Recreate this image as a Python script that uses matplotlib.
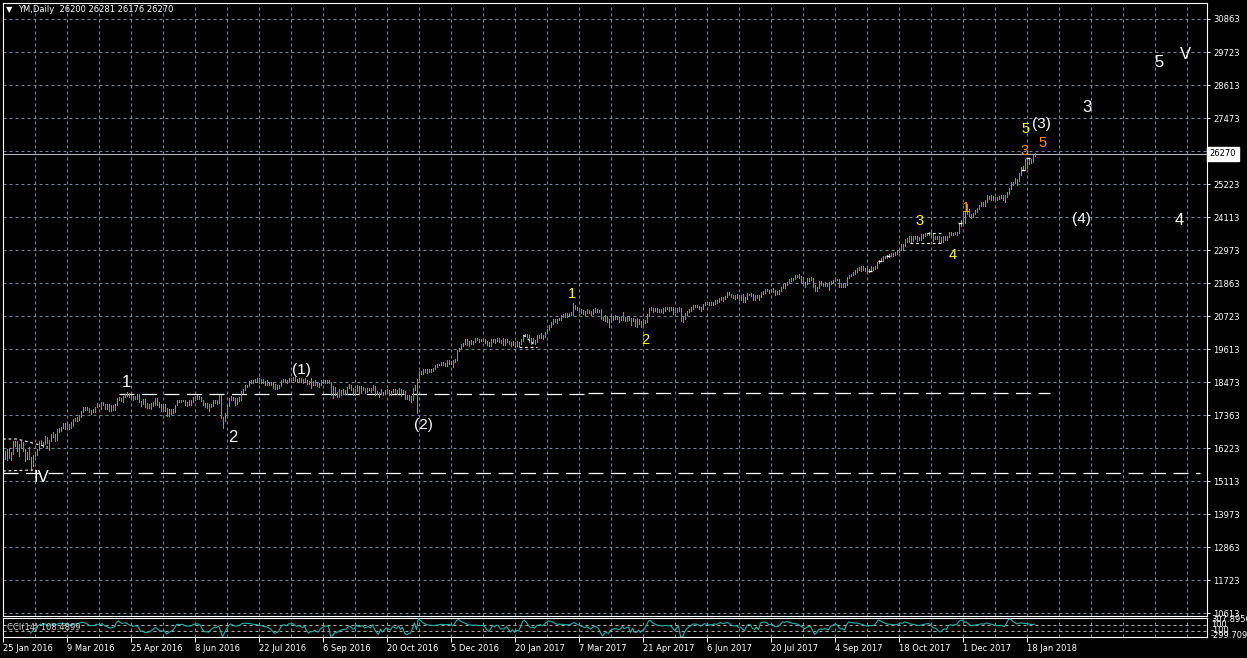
import matplotlib
matplotlib.use("Agg")
import matplotlib.pyplot as plt
import numpy as np

# YM daily bars, 25 Jan 2016 .. 23 Jan 2018 (one bar per trading day)
highs_2016 = [
    16130, 16190, 16240, 16110, 16490, 16480, 16460, 16360, 16480, 16440, 16220, 16110, 16260, 15930, 15990, 16090,
    16220, 16480, 16510, 16430, 16650, 16630, 16500, 16720, 16800, 16700, 16880, 16920, 16960, 17080, 17100, 17080,
    17040, 17130, 17230, 17260, 17280, 17370, 17510, 17620, 17650, 17640, 17610, 17530, 17560, 17650, 17760, 17740,
    17810, 17810, 17740, 17730, 17730, 17700, 17720, 17740, 17930, 17960, 17940, 18020, 18080, 18160, 18110, 18030,
    18010, 18020, 18080, 18070, 17850, 17910, 17900, 17770, 17730, 17760, 17790, 17950, 17940, 17790, 17740, 17740,
    17730, 17600, 17560, 17560, 17560, 17720, 17880, 17870, 17890, 17890, 17880, 17820, 17860, 17860, 17960, 18000,
    18030, 18020, 17990, 17880, 17780, 17760, 17750, 17750, 17880, 17880, 17880, 18030, 18050, 17310, 17440, 17720,
    17950, 18000, 17960, 17930, 17940, 17970, 18170, 18260, 18370, 18400, 18530, 18540, 18560, 18580, 18620, 18620,
    18600, 18590, 18520, 18540, 18500, 18490, 18480, 18420, 18380, 18390, 18570, 18580, 18580, 18570, 18640, 18620,
    18670, 18650, 18590, 18620, 18610, 18580, 18620, 18570, 18510, 18630, 18530, 18540, 18480, 18460, 18540, 18520,
    18560, 18560, 18550, 18490, 18350, 18330, 18150, 18240, 18220, 18250, 18200, 18320, 18430, 18400, 18270, 18250,
    18370, 18350, 18340, 18320, 18300, 18300, 18300, 18300, 18390, 18350, 18190, 18160, 18260, 18160, 18210, 18250,
    18230, 18190, 18260, 18240, 18220, 18280, 18240, 18210, 18190, 18060, 18040, 18010, 18280, 18370, 18600, 18880,
    18880, 18930, 18940, 18930, 18930, 18940, 18970, 19060, 19100, 19110, 19170, 19170, 19150, 19230, 19230, 19210,
    19250, 19270, 19570, 19640, 19780, 19830, 19940, 19960, 19880, 19920, 19900, 19990, 19990, 19960, 19950, 19980,
    19960, 19870, 19850,
]
lows_2016 = [
    15850, 15840, 15910, 15820, 16040, 16320, 16120, 15960, 16240, 16120, 15800, 15880, 15880, 15480, 15640, 15950,
    16000, 16170, 16380, 16260, 16370, 16400, 16170, 16460, 16610, 16490, 16500, 16790, 16820, 16920, 16900, 16930,
    16900, 16920, 16980, 17160, 17160, 17200, 17290, 17450, 17550, 17540, 17480, 17400, 17470, 17460, 17620, 17660,
    17580, 17710, 17580, 17560, 17510, 17500, 17530, 17540, 17700, 17870, 17850, 17820, 17970, 18000, 17960, 17940,
    17890, 17920, 17920, 17790, 17680, 17740, 17640, 17610, 17600, 17570, 17660, 17690, 17690, 17640, 17510, 17500,
    17500, 17330, 17330, 17410, 17440, 17470, 17690, 17790, 17790, 17830, 17710, 17660, 17700, 17700, 17790, 17890,
    17910, 17900, 17830, 17700, 17630, 17600, 17490, 17620, 17660, 17770, 17740, 17760, 17250, 16920, 17150, 17400,
    17680, 17880, 17880, 17710, 17730, 17830, 17880, 18120, 18200, 18310, 18350, 18440, 18460, 18480, 18530, 18450,
    18470, 18440, 18400, 18390, 18390, 18370, 18300, 18260, 18260, 18290, 18340, 18490, 18490, 18440, 18480, 18530,
    18560, 18520, 18480, 18530, 18490, 18440, 18500, 18430, 18410, 18300, 18370, 18400, 18360, 18320, 18400, 18460,
    18470, 18460, 18440, 18060, 17950, 18040, 17990, 17990, 18040, 18090, 18070, 18080, 18280, 18230, 18060, 18060,
    18180, 18080, 18120, 18210, 18110, 18160, 18200, 18150, 18220, 18060, 18080, 17960, 18080, 18040, 18070, 18130,
    18060, 18050, 18140, 18120, 18080, 18130, 18000, 18100, 17900, 17910, 17860, 17800, 17880, 18230, 17430, 18560,
    18750, 18770, 18820, 18790, 18820, 18840, 18850, 18940, 18990, 19060, 19070, 19060, 19050, 19040, 19100, 19100,
    19000, 19180, 19230, 19530, 19600, 19710, 19790, 19750, 19720, 19800, 19800, 19860, 19910, 19860, 19880, 19890,
    19810, 19760, 19710,
]
highs_2017 = [
    19950, 19970, 19960, 20000, 19980, 19920, 19980, 19960, 19960, 19900, 19860, 19880, 19840, 19900, 19850, 19940,
    20100, 20130, 20130, 20100, 19990, 19990, 19930, 20090, 20080, 20150, 20090, 20200, 20290, 20430, 20520, 20630,
    20650, 20630, 20660, 20770, 20790, 20830, 20830, 20850, 20860, 21170, 21130, 21040, 21020, 20990, 20940, 20910,
    20980, 20930, 20900, 20980, 21000, 20970, 20950, 20960, 20710, 20760, 20740, 20620, 20730, 20730, 20760, 20740,
    20710, 20710, 20880, 20720, 20740, 20730, 20670, 20680, 20620, 20660, 20640, 20570, 20620, 20610, 20790, 21020,
    21060, 21020, 21010, 21000, 20980, 20990, 21000, 21030, 21050, 21060, 21040, 21030, 20950, 21010, 21030, 21000,
    20720, 20830, 20920, 20970, 21030, 21110, 21100, 21100, 21090, 21060, 21160, 21230, 21230, 21200, 21210, 21230,
    21300, 21280, 21350, 21400, 21400, 21410, 21550, 21550, 21490, 21460, 21450, 21480, 21440, 21470, 21480, 21390,
    21510, 21500, 21510, 21490, 21440, 21450, 21440, 21570, 21580, 21660, 21670, 21640, 21660, 21680, 21630, 21600,
    21640, 21730, 21830, 21850, 21910, 21990, 22040, 22050, 22120, 22140, 22180, 22110, 22060, 21900, 22020, 22040,
    22060, 22040, 21800, 21740, 21920, 21920, 21860, 21900, 21860, 21890, 21930, 21980, 22040, 22010, 22000, 21860,
    21880, 21850, 22080, 22140, 22180, 22230, 22290, 22360, 22400, 22430, 22430, 22380, 22380, 22350, 22430, 22400,
    22430, 22580, 22660, 22700, 22790, 22800, 22820, 22850, 22890, 22900, 22910, 22980, 23020, 23190, 23180, 23350,
    23390, 23470, 23460, 23460, 23480, 23460, 23420, 23520, 23540, 23560, 23580, 23600, 23590, 23580, 23480, 23470,
    23450, 23420, 23480, 23470, 23450, 23610, 23600, 23560, 23590, 23610, 23860, 24000, 24320, 24330, 24540, 24380,
    24220, 24250, 24350, 24410, 24530, 24620, 24640, 24690, 24880, 24820, 24850, 24830, 24810, 24790, 24820, 24860,
    24870,
]
lows_2017 = [
    19730, 19860, 19830, 19870, 19860, 19810, 19750, 19760, 19840, 19800, 19710, 19760, 19680, 19710, 19720, 19780,
    19900, 20040, 20020, 19850, 19780, 19840, 19790, 19860, 19990, 19990, 19970, 20030, 20150, 20250, 20360, 20480,
    20530, 20510, 20590, 20610, 20710, 20700, 20690, 20760, 20760, 20780, 20980, 20940, 20880, 20850, 20820, 20780,
    20840, 20830, 20760, 20820, 20890, 20890, 20860, 20630, 20590, 20570, 20520, 20380, 20520, 20610, 20640, 20620,
    20520, 20600, 20600, 20570, 20580, 20590, 20420, 20560, 20410, 20380, 20470, 20360, 20390, 20500, 20540, 20750,
    20930, 20880, 20900, 20870, 20870, 20870, 20840, 20920, 20970, 20920, 20930, 20810, 20860, 20870, 20920, 20580,
    20530, 20640, 20780, 20860, 20900, 20990, 21030, 21040, 20990, 20920, 20990, 21120, 21150, 21100, 21110, 21120,
    21160, 21170, 21220, 21290, 21250, 21320, 21370, 21440, 21370, 21340, 21330, 21360, 21280, 21290, 21200, 21230,
    21320, 21440, 21420, 21290, 21300, 21360, 21280, 21400, 21500, 21530, 21590, 21520, 21550, 21560, 21470, 21480,
    21500, 21590, 21690, 21700, 21800, 21860, 21930, 21980, 22000, 22060, 22020, 21880, 21820, 21710, 21840, 21930,
    21950, 21730, 21600, 21600, 21690, 21790, 21750, 21770, 21750, 21620, 21830, 21870, 21930, 21950, 21710, 21720,
    21730, 21720, 21780, 22030, 22090, 22120, 22160, 22250, 22300, 22280, 22320, 22260, 22220, 22230, 22260, 22300,
    22340, 22380, 22530, 22600, 22630, 22700, 22720, 22740, 22790, 22800, 22820, 22850, 22930, 22980, 22990, 23140,
    23250, 23260, 23250, 23300, 23350, 23300, 23320, 23340, 23410, 23470, 23490, 23500, 23480, 23300, 23380, 23360,
    23260, 23220, 23250, 23340, 23330, 23420, 23500, 23500, 23520, 23510, 23560, 23810, 23920, 23900, 24230, 24150,
    24080, 24120, 24200, 24300, 24370, 24480, 24490, 24490, 24640, 24720, 24680, 24700, 24710, 24690, 24710, 24750,
    24680,
]
highs_2018 = [24850, 24950, 25110, 25320, 25320, 25430, 25400, 25600, 25820, 25850, 26080, 26140, 26140, 26100, 26230, 26281]
lows_2018 = [24640, 24800, 24900, 25060, 25220, 25260, 25200, 25350, 25560, 25750, 25700, 25770, 25930, 25960, 25980, 26176]

# last bar O H L C shown in the title
last_ohlc = [26200, 26281, 26176, 26270]

# right price scale
price_ticks = [30863, 29723, 28613, 27473, 26363, 25223, 24113, 22973, 21863, 20723,
               19613, 18473, 17363, 16223, 15113, 13973, 12863, 11723, 10613]

date_labels = ["25 Jan 2016", "9 Mar 2016", "25 Apr 2016", "8 Jun 2016", "22 Jul 2016", "6 Sep 2016",
               "20 Oct 2016", "5 Dec 2016", "20 Jan 2017", "7 Mar 2017", "21 Apr 2017", "6 Jun 2017",
               "20 Jul 2017", "4 Sep 2017", "18 Oct 2017", "1 Dec 2017", "18 Jan 2018"]

# wave counts: text, bar position, price, colour, size
waves = [
    ("1", 60.8, 18488, "white", 12), ("2", 114.3, 16579, "white", 12), ("IV", 18.3, 15216, "white", 12),
    ("(1)", 148.3, 18897, "white", 11), ("(2)", 209.3, 17022, "white", 11),
    ("1", 283.8, 21488, "#ffff00", 10.5), ("2", 320.3, 19920, "#ffff00", 10.5),
    ("3", 457.3, 23977, "#ffff00", 10.5), ("4", 474.3, 22818, "#ffff00", 10.5),
    ("1", 480.8, 24420, "#f0a000", 10.5), ("3", 509.8, 26363, "#ff8c00", 10.5),
    ("5", 510.3, 27113, "#ffff00", 10.5), ("(3)", 518.3, 27284, "white", 11),
    ("5", 518.8, 26636, "#ff8c00", 10.5), ("3", 541.3, 27863, "white", 12),
    ("(4)", 538.3, 24045, "white", 11), ("5", 577.3, 29397, "white", 12),
    ("V", 590.3, 29636, "white", 12), ("4", 587.3, 23977, "white", 12),
]

# long dashed support lines: start bar, end bar, price
levels = [(-0.75, 597.75, 15386), (57.25, 291.75, 18080), (291.75, 522.75, 18110)]

# small dotted white objects: (bars), (prices)
dotted = [
    ([-0.75, 6.25, 21.75], [16545, 16545, 16270]),
    ([-0.75, 14.25], [15454, 15488]),
    ([257.0, 266.0], [19681, 19681]),
    ([259.5, 264.5], [20091, 19784]),
    ([461.25, 468.75], [23568, 23568]),
    ([452.75, 469.25], [23227, 23227]),
]
marks_x = [432.75, 437.75, 441.75, 477.75, 509.25, 511.75]
marks_y = [22272, 22613, 22784, 23909, 25715, 26124]

highs = np.array(highs_2016 + highs_2017 + highs_2018, dtype=float)
lows = np.array(lows_2016 + lows_2017 + lows_2018, dtype=float)
idx = np.arange(len(highs))

# CCI(14) on the bar mid price
tp = (highs + lows) / 2
cci = np.full(len(tp), np.nan)
for i in range(13, len(tp)):
    win = tp[i - 13:i + 1]
    sma = win.mean()
    md = np.abs(win - sma).mean()
    cci[i] = (tp[i] - sma) / (0.015 * md)

W, H = 1247, 658
grid_col = "#778899"
fig = plt.figure(figsize=(W / 100, H / 100), dpi=100, facecolor="black")
ax = fig.add_axes([3 / W, 1 - 616 / H, 1204 / W, 613 / H], facecolor="black")
axc = fig.add_axes([3 / W, 1 - 637 / H, 1204 / W, 19 / H], facecolor="black")

x_lim = (-0.75, -0.75 + 1204 / 2)
ax.set_xlim(x_lim)
ax.set_ylim(30863 - 597 * 34.0909, 30863 + 16 * 34.0909)
axc.set_xlim(x_lim)
axc.set_ylim(-299.709, 307.8956)

for a in (ax, axc):
    for s in a.spines.values():
        s.set_color("white")
        s.set_linewidth(0.8)

# grid
grid_x = np.arange(16, 600, 16) - 0.75
for gx in grid_x:
    ax.axvline(gx, color=grid_col, lw=0.72, ls=(0, (3, 3)), zorder=0)
    axc.axvline(gx, color=grid_col, lw=0.72, ls=(0, (3, 3)), zorder=0)
for gy in price_ticks:
    ax.axhline(gy, color=grid_col, lw=0.72, ls=(0, (3, 3)), zorder=0)

# price bars
ax.vlines(idx, lows, highs, colors="#32cd32", lw=0.72, zorder=3, antialiased=False)

# support lines and small objects
for x0, x1, lv in levels:
    ax.plot([x0, x1], [lv, lv], color="white", lw=0.9, dashes=(12, 6), zorder=2)
for xs, ys in dotted:
    ax.plot(xs, ys, color="white", lw=0.8, dashes=(2.5, 2.5), zorder=4)
ax.plot(marks_x, marks_y, ls="none", marker="_", ms=3, mew=1, color="white", zorder=4)

# current price line and label
ax.axhline(last_ohlc[3], color="#a8b0bc", lw=0.8, zorder=2)
ax.text(1 + 2.5 / 1204, last_ohlc[3], str(last_ohlc[3]), transform=ax.get_yaxis_transform(),
        ha="left", va="center", fontsize=6, color="black", zorder=10, clip_on=False,
        bbox=dict(boxstyle="square,pad=0.3", fc="white", ec="white"))

# wave labels
for txt, bx, py, col, sz in waves:
    ax.text(bx, py, txt, color=col, fontsize=sz, family="Liberation Sans",
            ha="center", va="center", zorder=5)

# right scale
ax.set_xticks([])
ax.yaxis.tick_right()
ax.set_yticks(price_ticks)
ax.set_yticklabels([str(v) for v in price_ticks])
ax.tick_params(axis="y", colors="white", labelsize=6, length=2.5, width=0.72, pad=2)

# title
fig.text(6 / W, 1 - 10 / H, "\u25bc", color="white", fontsize=6, va="center", ha="left")
fig.text(18 / W, 1 - 10 / H, "YM,Daily  " + " ".join(str(v) for v in last_ohlc),
         color="white", fontsize=6, va="center", ha="left")

# CCI window
axc.plot(idx, cci, color="#20b2aa", lw=0.8, zorder=3)
for lv in (100, -100):
    axc.axhline(lv, color="#b0b0b0", lw=0.72, ls=(0, (3, 3)), zorder=1)
axc.text(4 / 1204, 0.5, "CCI(14) 108.4899", transform=axc.transAxes, color="#d8d8d8",
         fontsize=6, ha="left", va="center", zorder=5)
for val, s in [(307.8956, "307.8956"), (100, "100"), (-100, "-100"), (-299.709, "-299.709")]:
    axc.text(1 + 4 / 1204, min(max(val, -250), 250), s, transform=axc.get_yaxis_transform(),
             color="white", fontsize=6, ha="left", va="center", clip_on=False)
axc.set_yticks([])
axc.set_xticks(np.arange(len(date_labels)) * 32 - 0.75)
axc.set_xticklabels(date_labels, ha="left")
axc.tick_params(axis="x", colors="white", labelsize=6, length=3.5, width=0.72, pad=1.5, direction="out")

fig.savefig("out.png", dpi=100, facecolor="black")
